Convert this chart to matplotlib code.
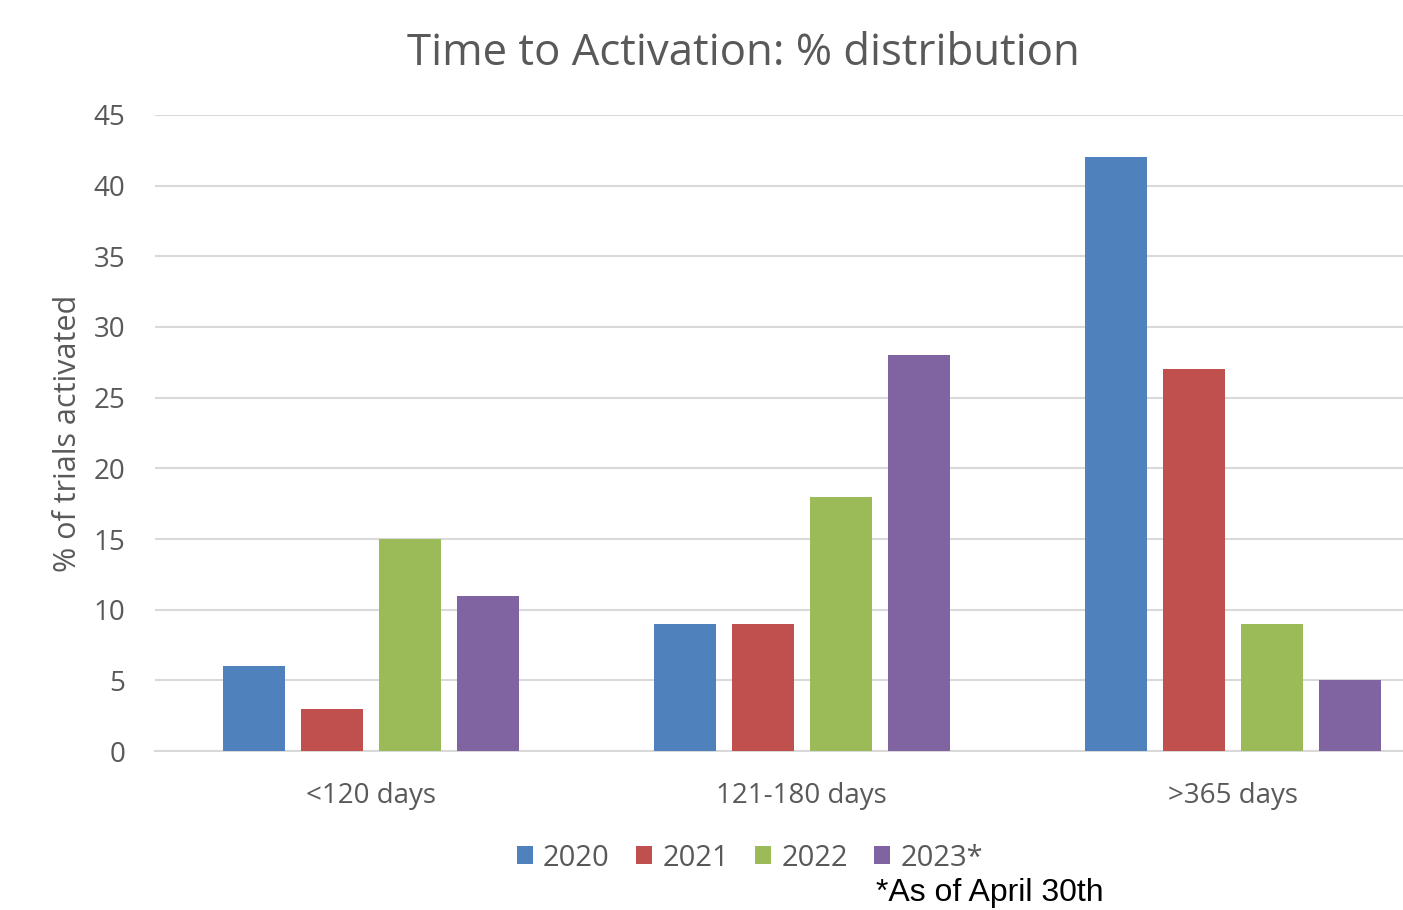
import numpy as np
from matplotlib import pyplot as plt

categories = ['<120 days', '121-180 days', '>365 days']
years = ['2020', '2021', '2022', '2023*']
v2020 = [6, 9, 42]
v2021 = [3, 9, 27]
v2022 = [15, 18, 9]
v2023 = [11, 28, 5]
colors = ['#4F81BD', '#C0504D', '#9BBB59', '#8064A2']

plt.rcParams['font.family'] = ['Open Sans', 'DejaVu Sans']
gray = '#595959'

fig = plt.figure(figsize=(14.03, 9.10), dpi=100)
ax = fig.add_axes([155 / 1403, 1 - 751 / 910, 1 - 155 / 1403, (751 - 115) / 910])

x = np.arange(len(categories))
w = 0.1437
step = 0.1808
series = [v2020, v2021, v2022, v2023]
for i, vals in enumerate(series):
    ax.bar(x + (i - 1.5) * step, vals, w, color=colors[i], label=years[i], zorder=3)

ax.set_xlim(-0.5, 2.394)
ax.set_ylim(0, 45)
ax.set_yticks(range(0, 50, 5))
ax.set_xticks(x)
ax.set_xticklabels(categories)
ax.grid(axis='y', color='#D9D9D9', linewidth=1.5, zorder=0)
for s in ['top', 'right', 'left']:
    ax.spines[s].set_visible(False)
ax.spines['bottom'].set_color('#D9D9D9')
ax.spines['bottom'].set_linewidth(1.5)
ax.tick_params(axis='both', length=0, colors=gray, labelsize=20)
ax.tick_params(axis='y', pad=21.5)
ax.tick_params(axis='x', pad=22)

ax.set_ylabel('% of trials activated', fontsize=22, color=gray)
ax.yaxis.set_label_coords((83 - 155) / 1248, 0.5)

fig.text(743 / 1403, 1 - 54 / 910, 'Time to Activation: % distribution',
         ha='center', va='center', fontsize=31.5, color=gray)

fig.legend(loc='center', bbox_to_anchor=(750 / 1403, 1 - 858 / 910), ncol=4,
           frameon=False, fontsize=21, labelcolor=gray, handlelength=0.55,
           handleheight=0.55, handletextpad=0.35, columnspacing=0.9)

fig.text(876 / 1403, 2 / 910, '*As of April 30th', ha='left', va='bottom',
         fontsize=23, color='black', family='Liberation Sans')

fig.savefig('out.png', dpi=100)
